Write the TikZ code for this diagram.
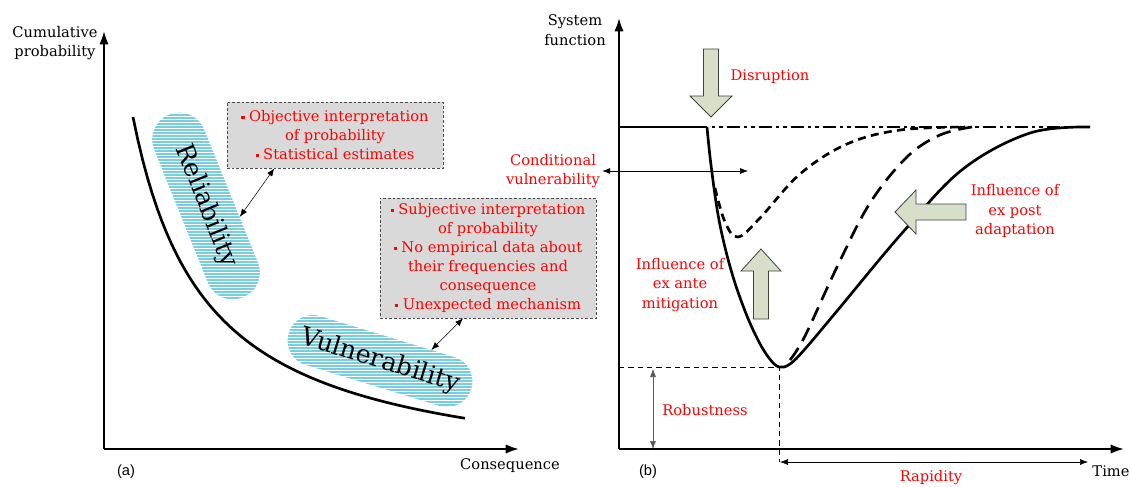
\documentclass[tikz,border=0pt]{standalone}
\usepackage{fontspec}
\setmainfont{DejaVu Serif}
\newfontfamily\panelfont{Liberation Sans}
\usetikzlibrary{arrows.meta,positioning,calc}

\definecolor{stripe}{RGB}{120,205,222}
\definecolor{boxgrey}{RGB}{217,217,217}
\definecolor{arrowgreen}{RGB}{216,223,200}

\newcommand{\bul}{\raisebox{0.35ex}{\rule{2.3pt}{2.3pt}}~}

\tikzset{
  axis/.style={line width=1.5pt,-{Latex[length=10pt,width=7pt]}},
  curve/.style={line width=2pt},
  note/.style={draw=black!70, dash pattern=on 2pt off 1.5pt, fill=boxgrey, text=red,
               align=center, minimum width=162pt, inner sep=2pt,
               font=\fontsize{11}{14.25}\selectfont},
  lbl/.style={align=center, inner sep=1.5pt, font=\fontsize{11}{14.5}\selectfont},
  redlbl/.style={lbl, text=red},
  dbl/.style={{Latex[length=6pt,width=4.5pt]}-{Latex[length=6pt,width=4.5pt]}, thin},
  blockarr/.style={draw=black!75, fill=arrowgreen, line width=0.6pt, line join=miter},
  helper/.style={thin, dash pattern=on 4pt off 3pt},
  capsule/.style={font=\fontsize{19}{19}\selectfont, inner sep=0pt},
}

\begin{document}
\begin{tikzpicture}[x=0.75pt,y=-0.75pt]
  \useasboundingbox (0,0) rectangle (1131,486);

  % ---- (a) reliability vs vulnerability
  \coordinate (oa) at (104,449);
  \coordinate (ya) at (104,31);
  \coordinate (xa) at (519,449);
  \draw[axis] (oa) -- (ya);
  \draw[axis] (oa) -- (xa);
  \node[lbl] (cumprob) at (55,43) {Cumulative\\probability};
  \node[lbl] (conseq) at (510,466) {Consequence};
  \node[font=\panelfont\fontsize{11}{13}\selectfont] (pa) at (126,472) {(a)};

  % striped capsules
  \coordinate (rc) at (206,206);
  \coordinate (vc) at (380,361);
  \begin{scope}
    \clip[rotate around={-68:(rc)}, rounded corners=20pt]
      ($(rc)+(-98.5,-27)$) rectangle ($(rc)+(98.5,27)$);
    \foreach \yy in {100,103,...,320}
      \draw[stripe, line width=1.3pt] (130,\yy) -- (290,\yy);
  \end{scope}
  \begin{scope}
    \clip[rotate around={-17:(vc)}, rounded corners=19pt]
      ($(vc)+(-95.5,-25.5)$) rectangle ($(vc)+(95.5,25.5)$);
    \foreach \yy in {300,303,...,420}
      \draw[stripe, line width=1.3pt] (270,\yy) -- (490,\yy);
  \end{scope}
  \node[capsule, rotate=-68, minimum width=148pt, minimum height=40.5pt] (rel) at (rc) {Reliability};
  \node[capsule, rotate=-17, minimum width=143pt, minimum height=38pt] (vul) at (vc) {Vulnerability};

  % the curve
  \draw[curve] plot[domain=133:465, samples=70] (\x, {484.5-268.27/((\x-60)/100)});

  % notes
  \node[note, minimum height=49.5pt] (box1) at (335,135)
    {\bul Objective interpretation\\ of probability\\ \bul Statistical estimates};
  \node[note, minimum height=90pt] (box2) at (488,258)
    {\bul Subjective interpretation\\ of probability\\ \bul No empirical data about\\
     their frequencies and\\ consequence\\ \bul Unexpected mechanism};
  \draw[dbl] ($(rel.north)!0.23!(rel.north east)$) -- ($(box1.south west)!0.22!(box1.south east)$);
  \draw[dbl] ($(vul.north)!0.48!(vul.north east)$) -- ($(box2.south west)!0.385!(box2.south east)$);

  % ---- (b) system function over time
  \coordinate (ob) at (619,449);
  \coordinate (yb) at (619,18);
  \coordinate (xb) at (1124,449);
  \draw[axis] (ob) -- (yb);
  \draw[axis] (ob) -- (xb);
  \node[lbl] (sysfun) at (575,30) {System\\function};
  \node[lbl] (time) at (1111,471) {Time};
  \node[font=\panelfont\fontsize{11}{13}\selectfont] (pb) at (648,472) {(b)};

  % performance curves
  \draw[curve] (619,127) -- (707,127);
  \draw[curve, dash pattern=on 2.5pt off 3pt on 2.5pt off 3pt on 10pt off 3pt] (712,127) -- (1090,127);
  \draw[curve, line join=round] plot[smooth, tension=0.6] coordinates {
    (707,127) (711,165) (719,220) (731,270) (745,311) (758,340) (769,358) (779,367)
    (790,364) (805,349) (837,311) (903,232) (963,169) (1030,133) (1090,127)};
  \draw[curve, dash pattern=on 6pt off 4pt] plot[smooth, tension=0.6] coordinates {
    (715,188) (725,222) (738,237) (760,218) (800,174)
    (847,144) (900,130) (965,127)};
  \draw[curve, dash pattern=on 11pt off 6pt] plot[smooth, tension=0.6] coordinates {
    (790,360) (805,336) (837,267) (870,203) (907,157)
    (940,135) (972,127)};

  % block arrows
  \draw[blockarr] (703.5,49) -- (718.5,49) -- (718.5,96) -- (732,96) -- (711,117)
    -- (690,96) -- (703.5,96) -- cycle;
  \draw[blockarr] (753.5,319) -- (768.5,319) -- (768.5,271) -- (781,271) -- (761,249)
    -- (741,271) -- (753.5,271) -- cycle;
  \draw[blockarr] (966,204) -- (966,220) -- (916,220) -- (916,234) -- (895,212)
    -- (916,190) -- (916,204) -- cycle;

  \node[redlbl] (disr) at (770,77) {Disruption};
  \node[redlbl] (mitig) at (680,285) {Influence of\\ex ante\\mitigation};
  \node[redlbl] (adapt) at (1015,211) {Influence of\\ex post\\adaptation};

  % conditional vulnerability
  \node[redlbl] (condv) at (553,171) {Conditional\\vulnerability};
  \coordinate (cvend) at (748,171);
  \draw[dbl] (condv.east) -- (cvend);

  % robustness and rapidity
  \coordinate (bot) at (779,367);
  \draw[helper] (619,367) -- (bot) -- (779,462);
  \coordinate (rbtop) at (653,369);
  \coordinate (rbbot) at (653,449);
  \draw[dbl, black!65] (rbtop) -- (rbbot);
  \node[redlbl] (robust) at (705,410) {Robustness};
  \coordinate (rpl) at (780,462);
  \coordinate (rpr) at (1088,462);
  \draw[dbl] (rpl) -- (rpr);
  \node[redlbl] (rapid) at (931,478) {Rapidity};
\end{tikzpicture}
\end{document}
